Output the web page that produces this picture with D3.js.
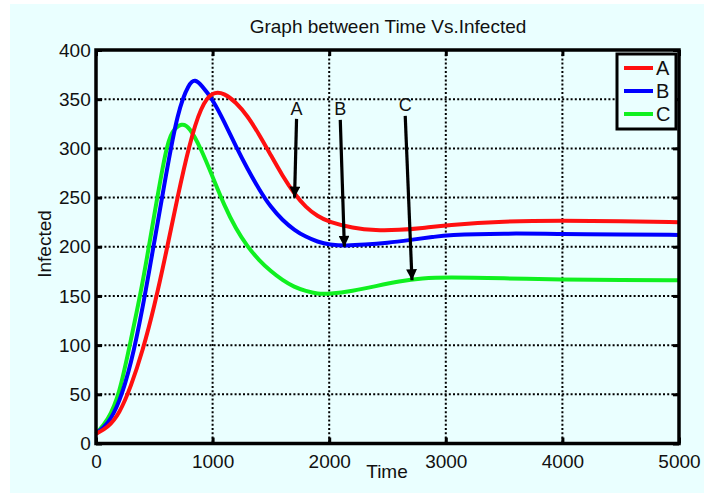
<!DOCTYPE html>
<html>
<head>
<meta charset="utf-8">
<script src="https://cdn.jsdelivr.net/npm/d3@7"></script>
<style>
  body { margin: 0; background: #fff; }
  svg text { font-family: "Liberation Sans", Arial, sans-serif; fill: #111; }
</style>
</head>
<body>
<svg id="chart" width="713" height="498"></svg>
<script>
// time values and readings for each series
let timesA = [0, 100, 200, 300, 400, 500, 600, 700, 800, 900, 1000, 1100, 1200, 1300, 1400, 1500, 1600, 1700, 1800, 1900, 2000, 2200, 2400, 2600, 2800, 3000, 3500, 4000, 4500, 5000];
let valuesA = [10, 16, 30, 58, 94, 139, 193, 251, 304, 343, 358, 356, 347, 333, 314, 293, 272, 254, 240, 231, 225, 219, 216.5, 217, 219, 222, 226, 226.5, 226, 225];

let timesB = [0, 100, 200, 300, 400, 500, 600, 700, 800, 850, 900, 1000, 1100, 1200, 1300, 1400, 1500, 1600, 1700, 1800, 1900, 2000, 2150, 2300, 2500, 2700, 2900, 3000, 3500, 4000, 4500, 5000];
let valuesB = [10, 19, 41, 80, 137, 205, 273, 338, 367, 370, 365, 350, 327, 302, 279, 258, 240, 227, 217, 210, 205, 202, 201, 202, 204, 207, 210, 212, 213.7, 213, 212.5, 212];

let timesC = [0, 100, 200, 300, 400, 500, 600, 650, 737, 800, 900, 1000, 1100, 1200, 1300, 1400, 1500, 1600, 1700, 1800, 1900, 2000, 2200, 2400, 2600, 2800, 3000, 3500, 4000, 4500, 5000];
let valuesC = [10, 23, 49, 106, 162, 233, 300, 318, 326, 322, 300, 271, 242, 218, 200, 186, 175, 166, 159, 155, 152, 152, 155, 160, 165, 168, 169, 168, 166.5, 166, 166];

let seriesNames = ["A", "B", "C"];
let seriesColors = ["#ff1010", "#0000ff", "#10f020"];

let xTicks = [0, 1000, 2000, 3000, 4000, 5000];
let yTicks = [0, 50, 100, 150, 200, 250, 300, 350, 400];

// annotation arrows: label position and arrow start/end in data units
let arrowLabels = ["A", "B", "C"];
let arrowLabelPos = [[1720, 340], [2094, 340], [2652, 344]];
let arrowFrom = [[1720, 330], [2095, 329], [2652, 333]];
let arrowTo = [[1703, 250], [2130, 200], [2710, 166]];

let svg = d3.select("#chart");

svg.append("rect")
    .attr("x", 10).attr("y", 4)
    .attr("width", 694).attr("height", 489)
    .attr("fill", "#eaffff");

let margin = {top: 50, right: 34, bottom: 54.5, left: 96};
let width = 713 - margin.left - margin.right;
let height = 498 - margin.top - margin.bottom;
let g = svg.append("g").attr("transform", "translate(" + margin.left + "," + margin.top + ")");

let x = d3.scaleLinear().domain([0, 5000]).range([0, width]);
let y = d3.scaleLinear().domain([0, 400]).range([height, 0]);

// grid
g.append("g")
    .selectAll("line")
    .data(xTicks.slice(1, -1))
    .enter().append("line")
    .attr("x1", d => x(d)).attr("x2", d => x(d))
    .attr("y1", 0).attr("y2", height)
    .attr("stroke", "#000")
    .attr("stroke-width", 2)
    .attr("stroke-dasharray", "2,2.2");

g.append("g")
    .selectAll("line")
    .data(yTicks.slice(1, -1))
    .enter().append("line")
    .attr("x1", 0).attr("x2", width)
    .attr("y1", d => y(d)).attr("y2", d => y(d))
    .attr("stroke", "#000")
    .attr("stroke-width", 2)
    .attr("stroke-dasharray", "2,2.2");

// axes with inward ticks
let fmt = d3.format("d");
let xAxis = g.append("g")
    .attr("transform", "translate(0," + height + ")")
    .call(d3.axisBottom(x).tickValues(xTicks).tickFormat(fmt).tickSizeInner(-6).tickSizeOuter(0).tickPadding(13));
let yAxis = g.append("g")
    .call(d3.axisLeft(y).tickValues(yTicks).tickFormat(fmt).tickSizeInner(-6).tickSizeOuter(0).tickPadding(10));
let xTop = g.append("g")
    .call(d3.axisTop(x).tickValues(xTicks).tickSizeInner(-6).tickSizeOuter(0).tickFormat(""));
let yRight = g.append("g")
    .attr("transform", "translate(" + width + ",0)")
    .call(d3.axisRight(y).tickValues(yTicks).tickSizeInner(-6).tickSizeOuter(0).tickFormat(""));

[xAxis, yAxis, xTop, yRight].forEach(a => {
    a.select(".domain").remove();
    a.selectAll(".tick line").attr("stroke", "#000").attr("stroke-width", 3);
    a.selectAll(".tick text").attr("font-size", 19).attr("font-family", "Liberation Sans, Arial, sans-serif").attr("fill", "#111");
});
xAxis.selectAll(".tick text").attr("dy", "0.6em");
yAxis.selectAll(".tick text").attr("dx", "0.25em");

// series lines
let line = d3.line()
    .x(d => x(d[0]))
    .y(d => y(d[1]))
    .curve(d3.curveBasis);

let series = [
    d3.zip(timesA, valuesA),
    d3.zip(timesB, valuesB),
    d3.zip(timesC, valuesC)
];

// draw C first so that A sits on top like the original
[2, 1, 0].forEach(i => {
    g.append("path")
        .datum(series[i])
        .attr("fill", "none")
        .attr("stroke", seriesColors[i])
        .attr("stroke-width", 4)
        .attr("stroke-linejoin", "round")
        .attr("d", line);
});

// arrows
svg.append("defs").append("marker")
    .attr("id", "head")
    .attr("viewBox", "0 0 10 10")
    .attr("refX", 10).attr("refY", 5)
    .attr("markerWidth", 3.6).attr("markerHeight", 3.4)
    .attr("markerUnits", "strokeWidth")
    .attr("orient", "auto")
    .append("path")
    .attr("d", "M0,0 L10,5 L0,10 z")
    .attr("fill", "#000");

arrowLabels.forEach((lab, i) => {
    g.append("line")
        .attr("x1", x(arrowFrom[i][0])).attr("y1", y(arrowFrom[i][1]))
        .attr("x2", x(arrowTo[i][0])).attr("y2", y(arrowTo[i][1]))
        .attr("stroke", "#000")
        .attr("stroke-width", 3.2)
        .attr("marker-end", "url(#head)");
    g.append("text")
        .attr("x", x(arrowLabelPos[i][0]))
        .attr("y", y(arrowLabelPos[i][1]))
        .attr("dy", "0.35em")
        .attr("text-anchor", "middle")
        .attr("font-size", 18)
        .text(lab);
});

// box frame
g.append("rect")
    .attr("width", width).attr("height", height)
    .attr("fill", "none")
    .attr("stroke", "#000")
    .attr("stroke-width", 3.5);

// legend
let legend = g.append("g").attr("transform", "translate(" + (width - 62) + ",4)");
legend.append("rect")
    .attr("width", 59).attr("height", 75)
    .attr("fill", "#eaffff")
    .attr("stroke", "#000")
    .attr("stroke-width", 3);
let items = legend.selectAll("g")
    .data(seriesNames)
    .enter().append("g")
    .attr("transform", (d, i) => "translate(0," + (14 + i * 23) + ")");
items.append("line")
    .attr("x1", 7).attr("x2", 36)
    .attr("stroke", (d, i) => seriesColors[i])
    .attr("stroke-width", 4);
items.append("text")
    .attr("x", 39).attr("dy", "0.36em")
    .attr("font-size", 20)
    .text(d => d);

// title and axis labels
svg.append("text")
    .attr("x", 388).attr("y", 33)
    .attr("text-anchor", "middle")
    .attr("font-size", 19)
    .text("Graph between Time Vs.Infected");

svg.append("text")
    .attr("x", 387).attr("y", 478)
    .attr("text-anchor", "middle")
    .attr("font-size", 19)
    .text("Time");

svg.append("text")
    .attr("transform", "translate(51,244) rotate(-90)")
    .attr("text-anchor", "middle")
    .attr("font-size", 19)
    .text("Infected");
</script>
</body>
</html>
